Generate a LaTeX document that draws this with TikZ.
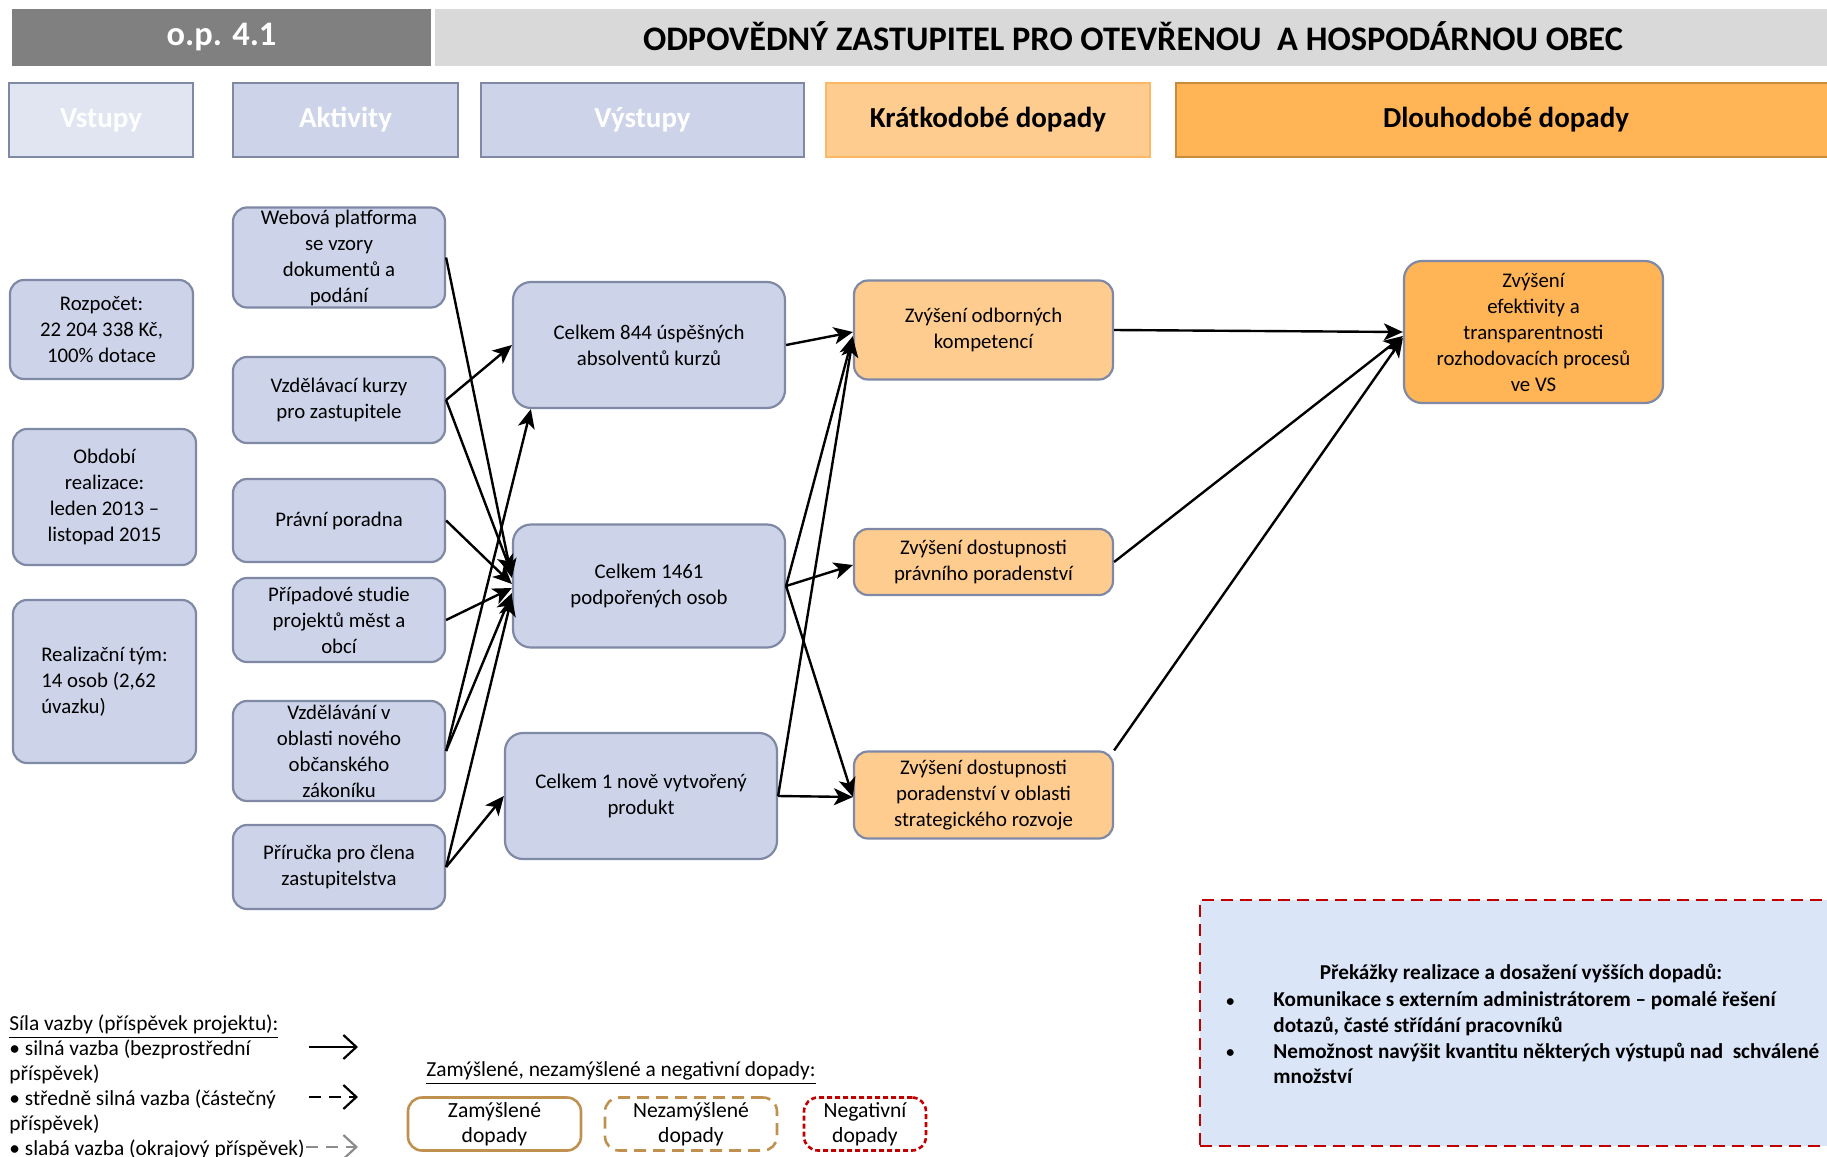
\documentclass[tikz,border=0pt]{standalone}
\usepackage{fontspec}
\setmainfont{Carlito}
\usetikzlibrary{arrows.meta,calc}
\definecolor{hdrdark}{HTML}{808080}
\definecolor{hdrlight}{HTML}{D9D9D9}
\definecolor{lav}{HTML}{CDD4E9}
\definecolor{lavlight}{HTML}{E1E5F2}
\definecolor{boxline}{HTML}{7F89A6}
\definecolor{orlight}{HTML}{FFCC8F}
\definecolor{orlightline}{HTML}{FAB867}
\definecolor{ordark}{HTML}{FFB455}
\definecolor{ordarkline}{HTML}{C98A3C}
\definecolor{tan}{HTML}{C0904F}
\definecolor{negred}{HTML}{C00000}
\definecolor{barfill}{HTML}{DBE5F8}
\definecolor{weakgray}{HTML}{8C8C8C}
\begin{document}
\begin{tikzpicture}[x=0.5pt,y=-0.5pt,
  sz/.style 2 args={minimum width={#1*0.5pt}, minimum height={#2*0.5pt}},
  hdr/.style={inner sep=0pt, outer sep=0pt, font=\fontsize{17.2}{19}\selectfont\bfseries},
  cat/.style={inner sep=0pt, outer sep=0pt, line width=1.1pt, font=\fontsize{14.5}{17}\selectfont\bfseries},
  box/.style={rounded corners=7pt, draw=boxline, line width=1.1pt, align=center, inner sep=1pt,
              font=\fontsize{10.4}{13}\selectfont},
  lbox/.style={box, fill=lav},
  obox/.style={box, fill=orlight},
  ltbox/.style={box, fill=ordark},
  conn/.style={-{Stealth[length=9.5pt,width=8.5pt,inset=2.5pt]}, line width=1.2pt, black},
  legtip/.style={-{Straight Barb[length=6.5pt,width=12pt,line width=1.1pt]}, line width=1.2pt},
  legdash/.style={dash pattern=on 6pt off 4pt},
  txt/.style={inner sep=0pt, align=left, font=\fontsize{10.7}{12.45}\selectfont},
  bartxt/.style={inner sep=0pt, align=left, font=\fontsize{10.6}{12.7}\selectfont\bfseries},
]
\useasboundingbox (0,0) rectangle (1827,1157);
% header
\node[hdr, fill=hdrdark, text=white, sz={419}{57}] (op) at (221.5,37.5) {o.p. 4.1};
\node[hdr, fill=hdrlight, sz={1396}{57}] (title) at (1133,37.5) {\raisebox{1pt}{ODPOVĚDNÝ ZASTUPITEL PRO OTEVŘENOU \ A HOSPODÁRNOU OBEC}};
% category headers
\node[cat, fill=lavlight, draw=boxline, text=white, sz={184}{74}] (cVst) at (101,120) {Vstupy};
\node[cat, fill=lav, draw=boxline, text=white, sz={225}{74}] (cAkt) at (345.5,120) {Aktivity};
\node[cat, fill=lav, draw=boxline, text=white, sz={323}{74}] (cVys) at (642.5,120) {Výstupy};
\node[cat, fill=orlight, draw=orlightline, sz={324}{74}] (cKrat) at (988,120) {Krátkodobé dopady};
\node[cat, fill=ordark, draw=ordarkline, sz={660}{74}] (cDlou) at (1506,120) {Dlouhodobé dopady};
% inputs
\node[lbox, sz={183}{99}] (rozp) at (101.5,329.5) {Rozpočet:\\22 204 338 Kč,\\100\% dotace};
\node[lbox, sz={183}{136}] (obd) at (104.5,497) {Období\\realizace:\\leden 2013 –\\listopad 2015};
\node[lbox, sz={183}{163}, align=left] (tym) at (104.5,681.5) {Realizační tým:\\14 osob (2,62\\úvazku)};
% activities
\node[lbox, sz={212}{100}] (web) at (339,257.5) {Webová platforma\\se vzory\\dokumentů a\\podání};
\node[lbox, sz={212}{86}] (kurzy) at (339,400) {Vzdělávací kurzy\\pro zastupitele};
\node[lbox, sz={212}{83}] (pravni) at (339,520.5) {Právní poradna};
\node[lbox, sz={212}{84}] (pripad) at (339,620) {Případové studie\\projektů měst a\\obcí};
\node[lbox, sz={212}{100}] (vzdel) at (339,751) {Vzdělávání v\\oblasti nového\\občanského\\zákoníku};
\node[lbox, sz={212}{84}] (prir) at (339,867) {Příručka pro člena\\zastupitelstva};
% outputs
\node[lbox, sz={272}{126}, rounded corners=9pt] (out1) at (649,345) {Celkem 844 úspěšných\\absolventů kurzů};
\node[lbox, sz={272}{123}, rounded corners=9pt] (out2) at (649,586) {Celkem 1461\\podpořených osob};
\node[lbox, sz={272}{126}, rounded corners=9pt] (out3) at (641,796) {Celkem 1 nově vytvořený\\produkt};
% short term
\node[obox, sz={259}{99}] (st1) at (983.5,330) {Zvýšení odborných\\kompetencí};
\node[obox, sz={259}{66}] (st2) at (983.5,562) {Zvýšení dostupnosti\\právního poradenství};
\node[obox, sz={259}{87}] (st3) at (983.5,795) {Zvýšení dostupnosti\\poradenství v oblasti\\strategického rozvoje};
% long term
\node[ltbox, sz={259}{142}, rounded corners=9pt] (lt) at (1533.5,332) {Zvýšení\\efektivity a\\transparentnosti\\rozhodovacích procesů\\ve VS};
% connectors activities -> outputs
\draw[conn] (web.east) -- ($(out2.west)+(0,-8)$);
\draw[conn] (kurzy.east) -- (out1.west);
\draw[conn] (kurzy.east) -- ($(out2.west)+(0,-12)$);
\draw[conn] (pravni.east) -- ($(out2.west)+(0,-2)$);
\draw[conn] (pripad.east) -- ($(out2.west)+(0,2)$);
\draw[conn] (vzdel.east) -- ($(out1.south west)+(19,0)$);
\draw[conn] (vzdel.east) -- ($(out2.west)+(0,7)$);
\draw[conn] (prir.east) -- ($(out2.west)+(0,11)$);
\draw[conn] (prir.east) -- (out3.west);
% outputs -> short term
\draw[conn] (out1.east) -- ($(st1.west)+(0,2)$);
\draw[conn] (out2.east) -- ($(st1.west)+(0,6)$);
\draw[conn] (out2.east) -- ($(st2.west)+(0,3)$);
\draw[conn] (out2.east) -- ($(st3.west)+(0,2)$);
\draw[conn] (out3.east) -- ($(st1.west)+(0,8)$);
\draw[conn] (out3.east) -- ($(st3.west)+(0,2)$);
% short term -> long term
\draw[conn] (st1.east) -- (lt.west);
\draw[conn] (st2.east) -- ($(lt.west)+(0,4)$);
\draw[conn] (st3.north east) -- ($(lt.west)+(0,6)$);
% barrier box
\node[draw=negred, fill=barfill, line width=1.3pt, dash pattern=on 6pt off 3.5pt, sz={644}{246}, inner sep=0pt] (bar) at (1522,1023) {};
\node[bartxt] (bartitle) at (1521,973) {Překážky realizace a dosažení vyšších dopadů:};
\node[bartxt, font=\fontsize{8}{10}\selectfont\bfseries, anchor=west] (b1) at (1226,1002.5) {•};
\node[bartxt, anchor=north west] (i1) at (1273,991.5) {Komunikace s externím administrátorem – pomalé řešení\\dotazů, časté střídání pracovníků};
\node[bartxt, font=\fontsize{8}{10}\selectfont\bfseries, anchor=west] (b2) at (1226,1053.5) {•};
\node[bartxt, anchor=north west] (i2) at (1273,1042.5) {Nemožnost navýšit kvantitu některých výstupů nad \ schválené\\množství};
% legend: link strength
\node[txt, anchor=north west] (leg1) at (9,1014.5) {\underline{Síla vazby (příspěvek projektu):}\\• silná vazba (bezprostřední\\příspěvek)\\• středně silná vazba (částečný\\příspěvek)\\• slabá vazba (okrajový příspěvek)};
\coordinate (s1a) at (309,1047); \coordinate (s1b) at (358,1047);
\coordinate (s2a) at (309,1097); \coordinate (s2b) at (358,1097);
\coordinate (s3a) at (306,1147); \coordinate (s3b) at (358,1147);
\draw[legtip, black] (s1a) -- (s1b);
\draw[legtip, black, legdash] (s2a) -- (s2b);
\draw[legtip, weakgray, legdash] (s3a) -- (s3b);
% legend: intended etc.
\node[txt, anchor=west] (leg2) at (426,1073) {\underline{Zamýšlené, nezamýšlené a negativní dopady:}};
\node[box, draw=tan, line width=1.3pt, sz={173}{53}, inner sep=0pt, font=\fontsize{10.8}{12.6}\selectfont] (lz) at (494.5,1124) {Zamýšlené\\dopady};
\node[box, draw=tan, line width=1.3pt, dash pattern=on 6pt off 3.5pt, sz={172}{53}, inner sep=0pt, font=\fontsize{10.8}{12.6}\selectfont] (ln) at (691,1124) {Nezamýšlené\\dopady};
\node[box, draw=negred, line width=1.3pt, dash pattern=on 2.5pt off 1.5pt, sz={122}{53}, inner sep=0pt, font=\fontsize{10.8}{12.6}\selectfont] (lneg) at (865,1124) {Negativní\\dopady};
\end{tikzpicture}
\end{document}
